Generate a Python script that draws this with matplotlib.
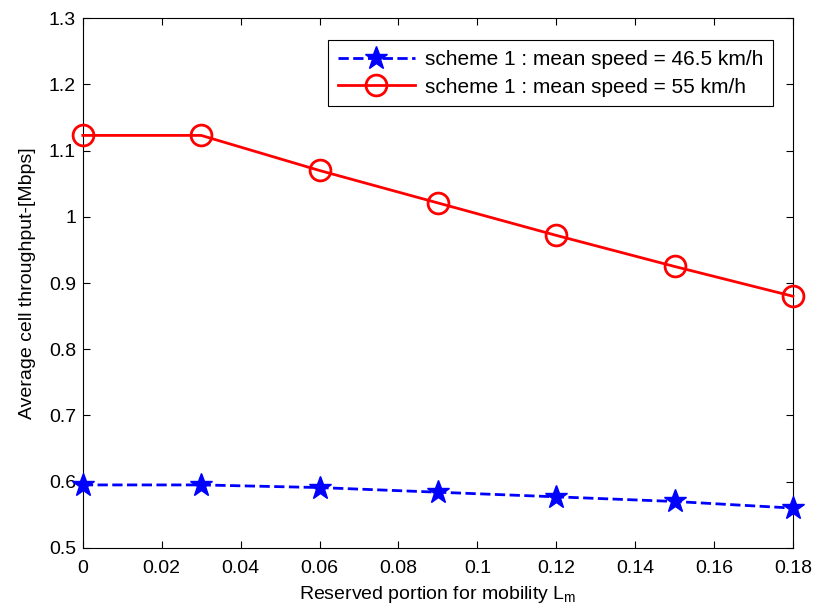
import matplotlib.pyplot as plt
from matplotlib.ticker import FuncFormatter

plt.rcParams['font.family'] = ['Liberation Sans', 'DejaVu Sans']

# data
reserved = [0, 0.03, 0.06, 0.09, 0.12, 0.15, 0.18]
speed_46 = [0.595, 0.595, 0.591, 0.584, 0.577, 0.570, 0.560]
speed_55 = [1.123, 1.123, 1.070, 1.021, 0.972, 0.925, 0.880]
labels = ['scheme 1 : mean speed = 46.5 km/h', 'scheme 1 : mean speed = 55 km/h']

fig = plt.figure(figsize=(8.2, 6.08), dpi=100)
ax = fig.add_axes([0.101, 0.099, 0.866, 0.871])

ax.plot(reserved, speed_46, '--', color='blue', linewidth=2, marker='*',
        markersize=17, markerfacecolor='blue', markeredgecolor='blue',
        label=labels[0], clip_on=False, zorder=3)
ax.plot(reserved, speed_55, '-', color='red', linewidth=2, marker='o',
        markersize=15, markerfacecolor='none', markeredgecolor='red',
        markeredgewidth=2, label=labels[1], clip_on=False, zorder=3)

ax.set_xlim(0, 0.18)
ax.set_ylim(0.5, 1.3)
ax.set_xticks([0, 0.02, 0.04, 0.06, 0.08, 0.1, 0.12, 0.14, 0.16, 0.18])
ax.set_yticks([0.5, 0.6, 0.7, 0.8, 0.9, 1.0, 1.1, 1.2, 1.3])
fmt = FuncFormatter(lambda v, p: '%g' % round(v, 4))
ax.xaxis.set_major_formatter(fmt)
ax.yaxis.set_major_formatter(fmt)
ax.tick_params(direction='in', top=True, right=True, labelsize=14, length=5,
               width=0.8)
ax.tick_params(axis='x', pad=9)
ax.tick_params(axis='y', pad=5)
for s in ax.spines.values():
    s.set_linewidth(0.8)

ax.set_xlabel('Reserved portion for mobility L$_\\mathregular{m}$', fontsize=14, labelpad=5)
ax.set_ylabel('Average cell throughput-[Mbps]', fontsize=14, labelpad=9)

leg = ax.legend(loc='upper right', bbox_to_anchor=(0.972, 0.958), borderaxespad=0,
                fontsize=15, fancybox=False, edgecolor='black', framealpha=1,
                handlelength=3.7, handletextpad=0.5, borderpad=0.45, labelspacing=0.42)
leg.get_frame().set_linewidth(0.8)

fig.savefig('out.png', dpi=100)
